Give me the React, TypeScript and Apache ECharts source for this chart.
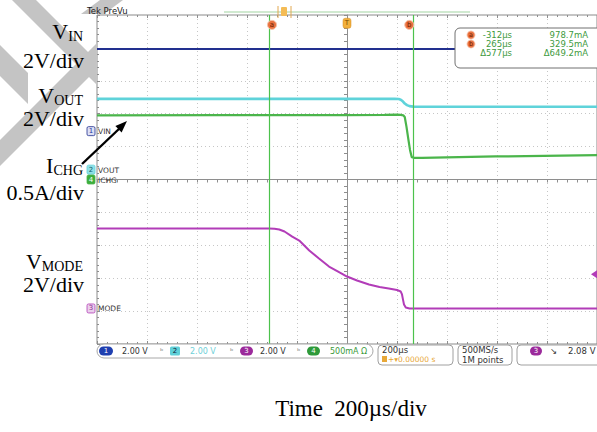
import React, { useEffect, useRef } from "react";
import * as echarts from "echarts";

// ---- time base (µs) ----
const T_MIN = -1000;
const T_MAX = 1000;
const T_DIV = 200;

// ---- channel settings ----
const chNames = ["VIN", "VOUT", "MODE", "ICHG"];
const chNumbers = ["1", "2", "3", "4"];
const chScale = [2, 2, 2, 0.5]; // units per division
const chOffsetDiv = [1.47, 0.3, -3.92, 0]; // ground marker position (divisions)
const statusScale = ["2.00 V", "2.00 V", "2.00 V", "500mA Ω"];

// ---- traces ----
const vinTime = [-1000, -500, 0, 500, 1000];
const vinVolts = [5.0, 5.0, 5.0, 5.0, 5.0];

const voutTime = [-1000, -500, 0, 190, 207, 215, 223, 231, 240, 250, 265, 300, 600, 1000];
const voutVolts = [4.3, 4.3, 4.3, 4.3, 4.29, 4.25, 4.15, 4.02, 3.92, 3.86, 3.83, 3.82, 3.82, 3.82];

const ichgTime = [-1000, -500, 0, 150, 200, 215, 225, 231, 238, 245, 252, 259, 268, 300, 594, 1000];
const ichgAmps = [0.975, 0.978, 0.979, 0.982, 0.985, 0.982, 0.975, 0.95, 0.8, 0.62, 0.45, 0.34, 0.33, 0.33, 0.35, 0.37];

const modeTime = [-1000, -312, -290, -271, -250, -219, -191, -151, -112, -72, -30, 0, 40, 88, 130, 167, 200, 215, 220, 224, 228, 235, 250, 400, 1000];
const modeVolts = [4.86, 4.86, 4.85, 4.8, 4.68, 4.37, 4.13, 3.52, 3.04, 2.55, 2.19, 1.94, 1.7, 1.46, 1.3, 1.22, 1.12, 1.03, 0.85, 0.54, 0.24, 0.06, 0.0, 0.0, 0.0];

// ---- cursors / readout ----
const cursorTimes = [-312, 265];
const cursorNames = ["a", "b"];
const readoutTime = ["-312µs", "265µs", "Δ577µs"];
const readoutCurrent = ["978.7mA", "329.5mA", "Δ649.2mA"];
const triggerLevelV = 2.08;

// ---- annotation texts ----
const leftLabels = [
  { main: "V", sub: "IN", scale: "2V/div" },
  { main: "V", sub: "OUT", scale: "2V/div" },
  { main: "I", sub: "CHG", scale: "0.5A/div" },
  { main: "V", sub: "MODE", scale: "2V/div" },
];
const timeLabel = "Time  200µs/div";

const COLORS = ["#22308f", "#5fd3da", "#b23cb8", "#4bb54b"];
const CURSOR_COLOR = "#4cc24c";

const toDiv = (vals: number[], ch: number) => vals.map((v) => v / chScale[ch] + chOffsetDiv[ch]);

export default function App() {
  const ref = useRef<HTMLDivElement>(null);
  useEffect(() => {
    const el = ref.current!;
    const chart = echarts.init(el, null, { renderer: "svg" });

    const mk = (name: string, time: number[], vals: number[], ch: number, width: number) => {
      const d = toDiv(vals, ch);
      return {
        type: "line",
        name,
        xAxisIndex: 0,
        yAxisIndex: 0,
        symbol: "none",
        silent: true,
        z: 3,
        lineStyle: { color: COLORS[ch], width },
        itemStyle: { color: COLORS[ch] },
        data: time.map((t, i) => [t, d[i]]),
      };
    };

    const axisGrey = "#8e8e8e";
    const edgeX = (position: string) => ({
      type: "value",
      min: T_MIN,
      max: T_MAX,
      interval: T_DIV,
      position,
      axisLine: { show: false, onZero: false },
      axisTick: { show: true, inside: true, length: 3, lineStyle: { color: axisGrey } },
      minorTick: { show: true, splitNumber: 5, length: 2, lineStyle: { color: axisGrey } },
      axisLabel: { show: false },
      splitLine: { show: false },
    });
    const edgeY = (position: string) => ({
      type: "value",
      min: -5,
      max: 5,
      interval: 1,
      position,
      axisLine: { show: false, onZero: false },
      axisTick: { show: true, inside: true, length: 3, lineStyle: { color: axisGrey } },
      minorTick: { show: true, splitNumber: 5, length: 2, lineStyle: { color: axisGrey } },
      axisLabel: { show: false },
      splitLine: { show: false },
    });

    const cursorLine = {
      type: "line",
      name: "cursors",
      xAxisIndex: 0,
      yAxisIndex: 0,
      symbol: "none",
      silent: true,
      z: 2,
      data: [],
      markLine: {
        silent: true,
        symbol: ["none", "none"],
        label: { show: false },
        emphasis: { disabled: true },
        lineStyle: { color: CURSOR_COLOR, width: 1.2, type: "solid", opacity: 1 },
        data: cursorTimes.map((t) => ({ xAxis: t, lineStyle: { color: CURSOR_COLOR, width: 1.2, type: "solid" } })),
      },
      markPoint: {
        silent: true,
        data: [
          ...cursorTimes.map((t, i) => ({
            name: cursorNames[i],
            coord: [t, 4.7],
            symbol: "circle",
            symbolSize: 9,
            symbolOffset: [i === 0 ? 3 : -4, 0],
            itemStyle: { color: "#e9713f", borderColor: "#f6c2a8", borderWidth: 1 },
            label: { show: true, formatter: cursorNames[i], color: "#6a1a00", fontSize: 7, fontFamily: "DejaVu Sans" },
          })),
          {
            name: "T",
            coord: [0, 4.75],
            symbol: "roundRect",
            symbolSize: [8, 10],
            itemStyle: { color: "#f2b03c", borderColor: "#d08a20", borderWidth: 0.5 },
            label: { show: true, formatter: "T", color: "#7a4a00", fontSize: 7, fontFamily: "DejaVu Sans" },
          },
        ],
      },
    };

    const option: any = {
      animation: false,
      backgroundColor: "#ffffff",
      grid: {
        left: 97,
        top: 15,
        width: 502,
        height: 329,
        show: true,
        borderColor: "#8a8a8a",
        borderWidth: 1,
        backgroundColor: "#ffffff",
      },
      xAxis: [
        {
          type: "value",
          min: T_MIN,
          max: T_MAX,
          interval: T_DIV,
          position: "bottom",
          axisLine: { show: true, onZero: true, lineStyle: { color: axisGrey, width: 1 } },
          axisTick: { show: true, length: 3, lineStyle: { color: axisGrey } },
          minorTick: { show: true, splitNumber: 5, length: 3, lineStyle: { color: axisGrey } },
          axisLabel: { show: false },
          splitLine: { show: true, lineStyle: { color: "#c6c6c6", type: [1, 3], width: 1 } },
        },
        edgeX("top"),
        edgeX("bottom"),
      ],
      yAxis: [
        {
          type: "value",
          min: -5,
          max: 5,
          interval: 1,
          position: "left",
          axisLine: { show: true, onZero: true, lineStyle: { color: axisGrey, width: 1 } },
          axisTick: { show: true, length: 3, lineStyle: { color: axisGrey } },
          minorTick: { show: true, splitNumber: 5, length: 3, lineStyle: { color: axisGrey } },
          axisLabel: { show: false },
          splitLine: { show: true, lineStyle: { color: "#c6c6c6", type: [1, 3], width: 1 } },
        },
        edgeY("left"),
      ],
      series: [
        cursorLine,
        mk("VIN", vinTime, vinVolts, 0, 2),
        mk("VOUT", voutTime, voutVolts, 1, 2.6),
        mk("MODE", modeTime, modeVolts, 2, 2),
        mk("ICHG", ichgTime, ichgAmps, 3, 2.2),
      ],
    };
    chart.setOption(option);

    const px = (t: number, d: number) => chart.convertToPixel({ gridIndex: 0 } as any, [t, d]) as number[];

    const serif = "'Liberation Serif', 'Times New Roman', serif";
    const sans = "'DejaVu Sans', sans-serif";
    const g: any[] = [];

    // text width measurement for subscripts
    const ctx = document.createElement("canvas").getContext("2d");
    const measure = (txt: string, font: string) => {
      if (!ctx) return txt.length * 9;
      ctx.font = font;
      return ctx.measureText(txt).width;
    };

    // watermark stripes (outside plot)
    const wm = "#c4c4c4";
    [
      [[12, 0], [36, 0], [96, 60], [96, 84]],
      [[0, 140], [0, 166], [96, 70], [96, 44]],
      [[0, 45], [0, 76], [28, 104], [28, 73]],
      [[100, 0], [123, 0], [104, 14], [81, 14]],
    ].forEach((pts) => g.push({ type: "polygon", z: 0, shape: { points: pts }, style: { fill: wm }, silent: true }));

    // Tek PreVu header + record overview
    g.push({ type: "text", z: 5, x: 87, y: 11, style: { text: "Tek PreVu", fontSize: 8.5, fontFamily: sans, fill: "#222", verticalAlign: "middle" } });
    g.push({ type: "line", z: 5, shape: { x1: 224, y1: 12, x2: 470, y2: 12 }, style: { stroke: "#a2d4a2", lineWidth: 1.2 } });
    g.push({ type: "line", z: 5, shape: { x1: 278, y1: 6, x2: 278, y2: 18 }, style: { stroke: "#e2a850", lineWidth: 1 } });
    g.push({ type: "line", z: 5, shape: { x1: 291, y1: 6, x2: 291, y2: 18 }, style: { stroke: "#e2a850", lineWidth: 1 } });
    g.push({ type: "rect", z: 5, shape: { x: 281, y: 7, width: 6, height: 9, r: 1 }, style: { fill: "#f4bc56" } });

    // left serif labels (main letter + lowered subscript + scale line)
    const labelY = [
      [31, 60],
      [95, 118.5],
      [165, 192],
      [261, 284.5],
    ];
    const SUB_RIGHT = 83;
    leftLabels.forEach((l, i) => {
      const subW = measure(l.sub, `14px 'Liberation Serif'`);
      g.push({
        type: "text",
        z: 6,
        x: SUB_RIGHT - subW,
        y: labelY[i][0],
        style: { text: l.main, fontSize: 22, lineHeight: 18, fontFamily: serif, fill: "#000", align: "right", verticalAlign: "middle" },
      });
      g.push({
        type: "text",
        z: 6,
        x: SUB_RIGHT - subW,
        y: labelY[i][0] + 5,
        style: { text: l.sub, fontSize: 14, lineHeight: 10, fontFamily: serif, fill: "#000", align: "left", verticalAlign: "middle" },
      });
      g.push({
        type: "text",
        z: 6,
        x: 84,
        y: labelY[i][1],
        style: { text: l.scale, fontSize: 22, lineHeight: 18, fontFamily: serif, fill: "#000", align: "right", verticalAlign: "middle" },
      });
    });

    // arrow to ICHG trace
    g.push({ type: "line", z: 7, shape: { x1: 82, y1: 164, x2: 120, y2: 128 }, style: { stroke: "#000", lineWidth: 2.4 } });
    g.push({ type: "polygon", z: 7, shape: { points: [[127, 121], [121.6, 132.5], [115.4, 126]] }, style: { fill: "#000" } });

    // channel ground markers at left edge
    const markFill = ["#dde0f4", "#8fe0e6", "#ead0ec", "#3cae3c"];
    const markText = ["#2a36a0", "#14606a", "#8a2a90", "#ffffff"];
    chNames.forEach((n, i) => {
      const [x, y] = px(T_MIN, chOffsetDiv[i]);
      g.push({ type: "rect", z: 8, shape: { x: x - 10, y: y - 4.5, width: 8, height: 9, r: 1.5 }, style: { fill: markFill[i], stroke: COLORS[i], lineWidth: 0.8 } });
      g.push({ type: "text", z: 9, x: x - 6, y, style: { text: chNumbers[i], fontSize: 7, fontFamily: sans, fill: markText[i], align: "center", verticalAlign: "middle" } });
      g.push({ type: "text", z: 9, x: x + 1, y: y + 0.5, style: { text: n, fontSize: 7.5, fontFamily: sans, fill: "#333", verticalAlign: "middle" } });
    });

    // trigger level marker on right edge
    {
      const [x, y] = px(T_MAX, triggerLevelV / chScale[2] + chOffsetDiv[2]);
      const xr = Math.min(x, 597);
      g.push({ type: "polygon", z: 8, shape: { points: [[xr - 6, y], [xr, y - 4], [xr, y + 4]] }, style: { fill: COLORS[2] } });
    }

    // cursor readout box
    g.push({ type: "rect", z: 8, shape: { x: 455, y: 28, width: 150, height: 40, r: 5 }, style: { fill: "#fff", stroke: "#707070", lineWidth: 1 } });
    const rowY = [35, 44, 53];
    rowY.forEach((y, i) => {
      if (i < 2) {
        g.push({ type: "circle", z: 9, shape: { cx: 471, cy: y, r: 4 }, style: { fill: "#e9713f", stroke: "#f6c2a8", lineWidth: 0.8 } });
        g.push({ type: "text", z: 10, x: 471, y, style: { text: cursorNames[i], fontSize: 6.5, fontFamily: sans, fill: "#6a1a00", align: "center", verticalAlign: "middle" } });
      }
      g.push({ type: "text", z: 9, x: 512, y, style: { text: readoutTime[i], fontSize: 8.5, fontFamily: sans, fill: "#3e9a3e", align: "right", verticalAlign: "middle" } });
      g.push({ type: "text", z: 9, x: 588, y, style: { text: readoutCurrent[i], fontSize: 8.5, fontFamily: sans, fill: "#3e9a3e", align: "right", verticalAlign: "middle" } });
    });

    // status bar
    const sy = 351;
    g.push({ type: "rect", z: 5, shape: { x: 97, y: 344, width: 276, height: 14, r: 7 }, style: { fill: "#fff", stroke: "#a8a8a8", lineWidth: 1 } });
    const pillX = [99, 170, 240, 307];
    const pillW = [14, 10, 13, 13];
    const pillFill = ["#1f3fb0", "#5fd0d8", "#9b2a9b", "#2e9a3a"];
    const pillTxt = ["#fff", "#123", "#fff", "#fff"];
    const scaleX = [122, 190, 260, 330];
    const scaleCol = ["#333", "#6fd0d8", "#333", "#3a9a3a"];
    [0, 1, 2, 3].forEach((k) => {
      g.push({ type: "rect", z: 6, shape: { x: pillX[k], y: sy - 4.5, width: pillW[k], height: 9, r: k === 1 ? 1.5 : 4.5 }, style: { fill: pillFill[k] } });
      g.push({ type: "text", z: 7, x: pillX[k] + pillW[k] / 2, y: sy, style: { text: chNumbers[k], fontSize: 7, fontFamily: sans, fill: pillTxt[k], align: "center", verticalAlign: "middle" } });
      g.push({ type: "text", z: 7, x: scaleX[k], y: sy, style: { text: statusScale[k], fontSize: 8, fontFamily: sans, fill: scaleCol[k], verticalAlign: "middle" } });
      if (k > 0) {
        g.push({ type: "text", z: 7, x: pillX[k] - 10, y: sy, style: { text: "ᵇ", fontSize: 8, fontFamily: sans, fill: "#888", verticalAlign: "middle" } });
      }
    });
    // timebase box
    g.push({ type: "rect", z: 5, shape: { x: 378, y: 345, width: 75, height: 20, r: 4 }, style: { fill: "#fff", stroke: "#a0a0a0", lineWidth: 1 } });
    g.push({ type: "text", z: 7, x: 382, y: 349.5, style: { text: "200µs", fontSize: 8.5, fontFamily: sans, fill: "#333", verticalAlign: "middle" } });
    g.push({ type: "rect", z: 7, shape: { x: 382, y: 356, width: 5, height: 6 }, style: { fill: "#e8a838" } });
    g.push({ type: "text", z: 7, x: 388, y: 359.5, style: { text: "+▾0.00000 s", fontSize: 7.5, fontFamily: sans, fill: "#e8a838", verticalAlign: "middle" } });
    // acquisition box
    g.push({ type: "rect", z: 5, shape: { x: 458, y: 345, width: 54, height: 20, r: 4 }, style: { fill: "#fff", stroke: "#a0a0a0", lineWidth: 1 } });
    g.push({ type: "text", z: 7, x: 462, y: 349.5, style: { text: "500MS/s", fontSize: 8.5, fontFamily: sans, fill: "#333", verticalAlign: "middle" } });
    g.push({ type: "text", z: 7, x: 462, y: 359.5, style: { text: "1M points", fontSize: 8.5, fontFamily: sans, fill: "#333", verticalAlign: "middle" } });
    // trigger box
    g.push({ type: "rect", z: 5, shape: { x: 517, y: 345, width: 90, height: 20, r: 4 }, style: { fill: "#fff", stroke: "#a0a0a0", lineWidth: 1 } });
    g.push({ type: "rect", z: 6, shape: { x: 530, y: sy - 4.5, width: 12, height: 9, r: 4.5 }, style: { fill: "#9b2a9b" } });
    g.push({ type: "text", z: 7, x: 536, y: sy, style: { text: "3", fontSize: 7, fontFamily: sans, fill: "#fff", align: "center", verticalAlign: "middle" } });
    g.push({ type: "text", z: 7, x: 550, y: sy, style: { text: "↘", fontSize: 8.5, fontFamily: sans, fill: "#333", verticalAlign: "middle" } });
    g.push({ type: "text", z: 7, x: 568, y: sy, style: { text: triggerLevelV.toFixed(2) + " V", fontSize: 8.5, fontFamily: sans, fill: "#333", verticalAlign: "middle" } });

    // time label
    g.push({ type: "text", z: 6, x: 351, y: 408, style: { text: timeLabel, fontSize: 23, fontFamily: serif, fill: "#000", align: "center", verticalAlign: "middle" } });

    chart.setOption({ graphic: g });

    return () => chart.dispose();
  }, []);

  return <div ref={ref} style={{ position: "fixed", left: 0, top: 0, width: 597, height: 432, background: "#fff" }} />;
}
